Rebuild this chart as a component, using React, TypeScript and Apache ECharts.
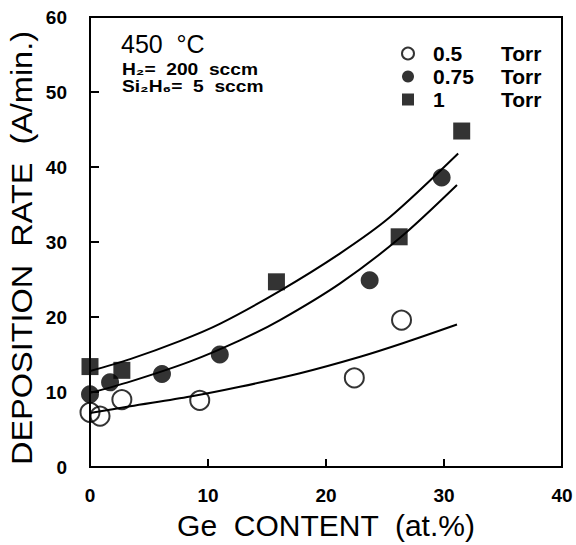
import React, { useEffect, useRef } from "react";
import * as echarts from "echarts";

// Measured points (Ge content at.%, deposition rate A/min.)
const torr05Points: number[][] = [
  [0, 7.3], [0.85, 6.8], [2.7, 9.0], [9.3, 8.9], [22.4, 11.9], [26.4, 19.6],
];
const torr075Points: number[][] = [
  [0, 9.7], [1.7, 11.3], [6.1, 12.4], [11.0, 15.0], [23.7, 24.9], [29.8, 38.6],
];
const torr1Points: number[][] = [
  [0, 13.4], [2.7, 12.9], [15.8, 24.7], [26.2, 30.7], [31.5, 44.8],
];

// Fitted curves
const fit05: number[][] = [
  [0, 7.2], [3.4, 8.1], [8.5, 9.4], [12.7, 10.7], [17.8, 12.5], [22.9, 14.7], [26.5, 16.5], [31.1, 19.0],
];
const fit075: number[][] = [
  [0, 9.9], [3.4, 11.4], [8.5, 14.1], [12.7, 16.9], [16.1, 19.6], [21.2, 24.5], [26.3, 30.6], [31.1, 37.6],
];
const fit1: number[][] = [
  [0, 12.8], [3.4, 14.4], [7.6, 16.8], [11.0, 19.1], [16.1, 23.5], [21.2, 28.5], [25.4, 33.3], [31.2, 41.8],
];

const legendNames = ["0.5 Torr", "0.75 Torr", "1 Torr"];
const xTicks = { min: 0, max: 40, interval: 10 };
const yTicks = { min: 0, max: 60, interval: 10 };
const xTitle = "Ge  CONTENT  (at.%)";
const yTitle = "DEPOSITION  RATE  (A/min.)";

const FONT = "'Liberation Sans', Arial, Helvetica, sans-serif";

export default function App() {
  const ref = useRef<HTMLDivElement>(null);
  useEffect(() => {
    if (!ref.current) return;
    const chart = echarts.init(ref.current, undefined, { renderer: "svg" });
    const lineSeries = (data: number[][]) => ({
      type: "line",
      data,
      smooth: 0.3,
      showSymbol: false,
      symbol: "none",
      lineStyle: { color: "#000", width: 2 },
      z: 3,
      silent: true,
    });
    chart.setOption({
      animation: false,
      backgroundColor: "#fff",
      textStyle: { fontFamily: FONT, color: "#000" },
      grid: {
        left: 90, right: 14, top: 17, bottom: 69,
        show: true, borderColor: "#000", borderWidth: 2, backgroundColor: "transparent",
      },
      xAxis: {
        type: "value",
        ...xTicks,
        name: xTitle,
        nameLocation: "middle",
        nameGap: 38,
        nameTextStyle: { fontSize: 30, color: "#000", fontFamily: FONT, verticalAlign: "top" },
        axisLine: { show: true, lineStyle: { color: "#000", width: 2 } },
        axisTick: { show: true, inside: true, length: 8, lineStyle: { color: "#000", width: 2 } },
        axisLabel: { fontSize: 19, fontWeight: "bold", color: "#000", margin: 19, fontFamily: FONT },
        splitLine: { show: false },
      },
      yAxis: {
        type: "value",
        ...yTicks,
        axisLine: { show: true, lineStyle: { color: "#000", width: 2 } },
        axisTick: { show: true, inside: true, length: 9, lineStyle: { color: "#000", width: 2 } },
        axisLabel: { fontSize: 19, fontWeight: "bold", color: "#000", margin: 23, fontFamily: FONT },
        splitLine: { show: false },
      },
      legend: {
        orient: "vertical",
        left: 396,
        top: 38,
        itemGap: 2,
        itemWidth: 12,
        itemHeight: 12,
        data: legendNames,
        formatter: (name: string) => `{v|${name.split(" ")[0]}}{t|Torr}`,
        textStyle: {
          fontFamily: FONT,
          rich: {
            v: { fontSize: 21, lineHeight: 20, fontWeight: "bold", width: 68, padding: [0, 0, 0, 14], fontFamily: FONT, color: "#000" },
            t: { fontSize: 21, lineHeight: 20, fontWeight: "bold", fontFamily: FONT, color: "#000" },
          },
        },
      },
      graphic: [
        {
          type: "text", x: 22, y: 248, rotation: Math.PI / 2, scaleX: 1.12,
          style: { text: yTitle, font: `29px ${FONT}`, fill: "#000", align: "center", verticalAlign: "middle" },
        },
        {
          type: "text", left: 121, top: 31,
          style: { text: "450  °C", font: `25px ${FONT}`, fill: "#000" },
        },
        {
          type: "text", x: 122, y: 62, scaleX: 1.2,
          style: { text: "H₂=  200  sccm", font: `bold 16px ${FONT}`, fill: "#000" },
        },
        {
          type: "text", x: 122, y: 79, scaleX: 1.2,
          style: { text: "Si₂H₆=  5  sccm", font: `bold 16px ${FONT}`, fill: "#000" },
        },
      ],
      series: [
        lineSeries(fit05),
        lineSeries(fit075),
        lineSeries(fit1),
        {
          name: legendNames[0], type: "scatter", data: torr05Points, symbol: "circle", symbolSize: 19,
          itemStyle: { color: "transparent", borderColor: "#000", borderWidth: 2 }, z: 4,
        },
        {
          name: legendNames[1], type: "scatter", data: torr075Points, symbol: "circle", symbolSize: 18,
          itemStyle: { color: "#000" }, z: 4,
        },
        {
          name: legendNames[2], type: "scatter", data: torr1Points, symbol: "rect", symbolSize: 17,
          itemStyle: { color: "#000" }, z: 4,
        },
      ],
    });
    return () => chart.dispose();
  }, []);
  return (
    <div
      ref={ref}
      style={{ position: "fixed", left: 0, top: 0, width: 576, height: 545, background: "#fff" }}
    />
  );
}
